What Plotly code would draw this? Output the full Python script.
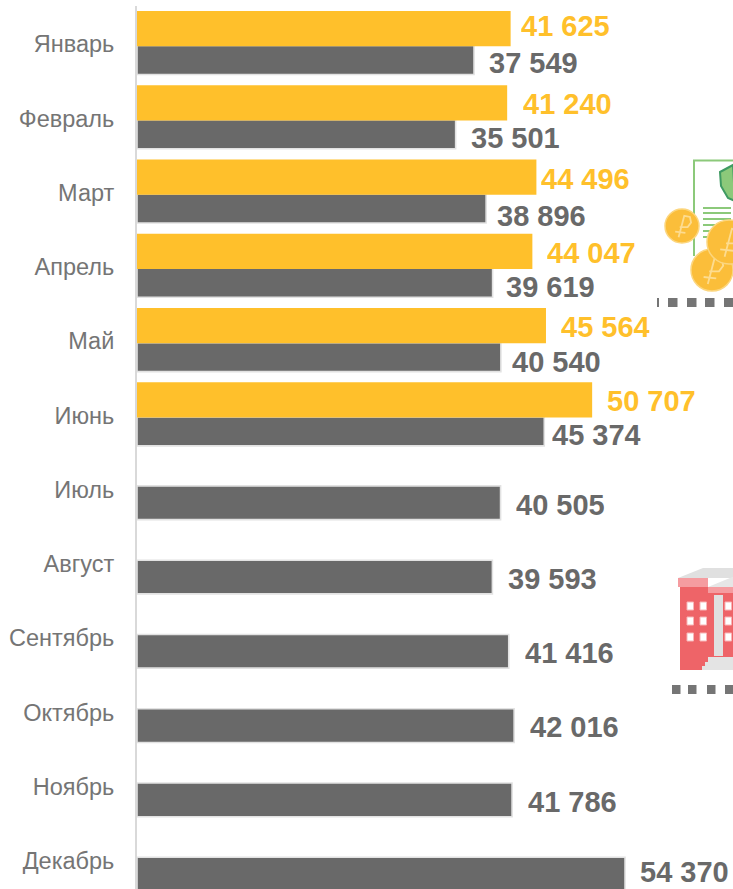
import plotly.graph_objects as go

months = ["Январь", "Февраль", "Март", "Апрель", "Май", "Июнь", "Июль", "Август",
          "Сентябрь", "Октябрь", "Ноябрь", "Декабрь"]
values_2 = [41625, 41240, 44496, 44047, 45564, 50707]
values_1 = [37549, 35501, 38896, 39619, 40540, 45374, 40505, 39593, 41416, 42016, 41786, 54370]
labels_2 = ["41 625", "41 240", "44 496", "44 047", "45 564", "50 707"]
labels_1 = ["37 549", "35 501", "38 896", "39 619", "40 540", "45 374",
            "40 505", "39 593", "41 416", "42 016", "41 786", "54 370"]

# label placement, pixels from the end of the bar / from the month's tick
gap_2 = [8, 14, 3, 13, 13, 13]
gap_1 = [13, 13, 9, 11, 9, 6, 13, 14, 14, 14, 14, 13]
drop_2 = [18, 14, 14, 14, 14, 14]
drop_1 = [-19, -20, -23, -20, -21, -20, -15, -15, -15, -15, -15, -11]

W, H = 733, 889
L, T = 137, 6
PITCH = 74.27
TICK0 = 44.0
PX_PER_UNIT = 0.008976
YELLOW, GREY = "#FFC02B", "#696969"

def u(px):
    return px / PITCH

grey_offset = [u(1.5)] * 6 + [u(-3.7)] * 6
grey_width = [u(29)] * 6 + [u(33.7)] * 6

fig = go.Figure()
fig.add_bar(y=months, x=values_1, orientation="h", name="1", marker_color=GREY,
            marker_line=dict(color="#E2E2E2", width=1.6), offset=grey_offset, width=grey_width)
fig.add_bar(y=months[:6], x=values_2, orientation="h", name="2", marker_color=YELLOW,
            marker_line_width=0, offset=u(-33), width=u(35.2))

for m, v, t, g, d in zip(months, values_2, labels_2, gap_2, drop_2):
    fig.add_annotation(x=v, y=m, text=f"<b>{t}</b>", xanchor="left", yanchor="middle", showarrow=False, height=26,
                       xshift=g, yshift=d, font=dict(family="Liberation Sans", size=29, color=YELLOW))
for m, v, t, g, d in zip(months, values_1, labels_1, gap_1, drop_1):
    fig.add_annotation(x=v, y=m, text=f"<b>{t}</b>", xanchor="left", yanchor="middle", showarrow=False, height=26,
                       xshift=g, yshift=d, font=dict(family="Liberation Sans", size=29, color=GREY))

# decorative illustrations, placed in page pixels
def px(x): return (x - L) / (W - L)
def py(y): return 1 - (y - T) / (H - T)
shapes = []
def rect(x0, y0, x1, y1, fill, line=None, lw=0):
    shapes.append(dict(type="rect", xref="paper", yref="paper", x0=px(x0), x1=px(x1), y0=py(y0), y1=py(y1),
                       fillcolor=fill, line=dict(color=line or fill, width=lw), layer="below"))
def poly(pts, fill, line=None, lw=0):
    d = "M" + " L".join(f"{px(a):.5f},{py(b):.5f}" for a, b in pts) + " Z"
    shapes.append(dict(type="path", xref="paper", yref="paper", path=d, fillcolor=fill,
                       line=dict(color=line or fill, width=lw), layer="below"))
def polyline(pts, color, lw):
    d = "M" + " L".join(f"{px(a):.5f},{py(b):.5f}" for a, b in pts)
    shapes.append(dict(type="path", xref="paper", yref="paper", path=d, line=dict(color=color, width=lw), layer="below"))
def coin(cx, cy, r):
    shapes.append(dict(type="circle", xref="paper", yref="paper", x0=px(cx - r), x1=px(cx + r), y0=py(cy - r), y1=py(cy + r),
                       fillcolor="#FBBE3A", line=dict(color="#FCD67E", width=1.5), layer="below"))
    k = r / 15
    ruble = [(-3, 10), (2, -9), (7, -8), (8, -3), (5, 1), (-2, 1)]
    polyline([(cx + a * k, cy + b * k) for a, b in ruble], "#FDDC90", 1.8)
    polyline([(cx - 6 * k, cy + 5 * k), (cx + 3 * k, cy + 6 * k)], "#FDDC90", 1.8)

# document with coins
polyline([(694, 256), (694, 160.5), (733, 160.5)], "#8CC97A", 2)
for yy in (208, 213, 219, 225, 231, 237):
    rect(703, yy - 1, 731, yy + 1, "#8CC97A")
poly([(720, 172), (733, 165), (735, 201), (728, 198), (721, 186)], "#8CC97A", "#3F9A62", 2)
coin(682, 226, 17)
coin(712, 270, 21)
coin(729, 242, 22)
rect(657, 298, 659, 307, "#757575")
for x0 in (668, 687, 705, 724):
    rect(x0, 298, x0 + 9.5, 307, "#757575")

# building
poly([(678, 578), (703, 568), (735, 568), (735, 578)], "#E0E0E0")
rect(680, 587, 735, 670, "#EE6468")
rect(678, 578, 708, 587, "#F59CA0")
poly([(708, 587), (735, 576), (735, 587)], "#E6E6E6")
rect(708, 587, 735, 593, "#F59CA0")
for wx in (687, 700, 725):
    for wy in (602, 617, 633):
        rect(wx, wy, wx + 6.5, wy + 8, "#FFFFFF", "#F8B5B7", 1)
rect(714, 595, 723, 656, "#E0E0E0")
poly([(702, 670), (702, 666), (705, 666), (705, 662), (708, 662), (708, 657), (735, 657), (735, 670)], "#E4E4E4")
for x0 in (672, 688, 707, 725):
    rect(x0, 685, x0 + 8.5, 694, "#757575")

fig.update_layout(
    width=W, height=H, margin=dict(l=L, r=0, t=T, b=0), barmode="overlay", showlegend=False,
    plot_bgcolor="white", paper_bgcolor="white", shapes=shapes,
    xaxis=dict(range=[0, (W - L) / PX_PER_UNIT], visible=False),
    yaxis=dict(type="category", categoryorder="array", categoryarray=months,
               range=[(H - TICK0) / PITCH, (T - TICK0) / PITCH],
               showgrid=False, showline=True, linecolor="#D9D9D9", linewidth=2, zeroline=False,
               ticks="", ticklabelstandoff=16,
               tickfont=dict(family="Liberation Sans", size=23.5, color="#757575")),
)
fig.write_html("out.html", config={"displayModeBar": False},
               post_script="document.body.style.margin='0';document.body.style.overflow='hidden';")
